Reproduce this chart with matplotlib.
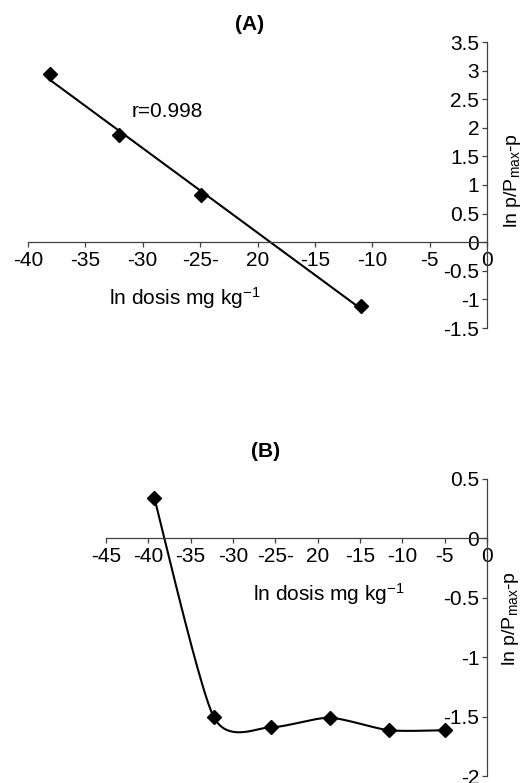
import numpy as np
import matplotlib
matplotlib.use('Agg')
import matplotlib.pyplot as plt

plt.rcParams['font.family'] = ['Liberation Sans', 'DejaVu Sans']
plt.rcParams['mathtext.fontset'] = 'custom'
plt.rcParams['mathtext.rm'] = 'Liberation Sans'
plt.rcParams['mathtext.it'] = 'Liberation Sans:italic'
plt.rcParams['axes.unicode_minus'] = False

# panel A data
a_dose = [-38.1, -32.1, -24.9, -11.0]
a_resp = [2.94, 1.87, 0.82, -1.11]
a_xticks = [-40, -35, -30, -25, -20, -15, -10, -5, 0]
a_xlabels = ['-40', '-35', '-30', '-25-', '20', '-15', '-10', '-5', '0']
a_yticks = [-1.5, -1, -0.5, 0, 0.5, 1, 1.5, 2, 2.5, 3, 3.5]
a_ylabels = ['-1.5', '-1', '-0.5', '0', '0.5', '1', '1.5', '2', '2.5', '3', '3.5']

# panel B data
b_dose = [-39.3, -32.3, -25.5, -18.6, -11.6, -5.0]
b_resp = [0.34, -1.50, -1.59, -1.51, -1.615, -1.615]
b_xticks = [-45, -40, -35, -30, -25, -20, -15, -10, -5, 0]
b_xlabels = ['-45', '-40', '-35', '-30', '-25-', '20', '-15', '-10', '-5', '0']
b_yticks = [-2, -1.5, -1, -0.5, 0, 0.5]
b_ylabels = ['-2', '-1.5', '-1', '-0.5', '0', '0.5']

FS = 15
SPINE = '#404040'


def smooth(x, y, n=40, f=0.12):
    # smoothed line like the spreadsheet one (bezier through the points)
    p = np.column_stack([x, y]).astype(float)
    ext = np.vstack([p[0], p, p[-1]])
    out = []
    t = np.linspace(0, 1, n)[:, None]
    for i in range(len(p) - 1):
        p0, p3 = ext[i + 1], ext[i + 2]
        c1 = p0 + (ext[i + 2] - ext[i]) * f
        c2 = p3 - (ext[i + 3] - ext[i + 1]) * f
        seg = ((1 - t) ** 3) * p0 + 3 * ((1 - t) ** 2) * t * c1 + 3 * (1 - t) * t ** 2 * c2 + t ** 3 * p3
        out.append(seg)
    out = np.vstack(out)
    return out[:, 0], out[:, 1]


def style(ax, xt, xl, yt, yl):
    for s in ['top', 'right']:
        ax.spines[s].set_visible(False)
    ax.spines['left'].set_position(('data', 0))
    ax.spines['bottom'].set_position(('data', 0))
    for s in ['left', 'bottom']:
        ax.spines[s].set_color(SPINE)
        ax.spines[s].set_linewidth(0.9)
    ax.set_xticks(xt)
    ax.set_xticklabels(xl)
    ax.set_yticks(yt)
    ax.set_yticklabels(yl)
    ax.tick_params(axis='both', colors=SPINE, labelcolor='black', labelsize=FS,
                   length=3.5, width=0.9, direction='out')
    ax.tick_params(axis='x', pad=3)
    ax.tick_params(axis='y', pad=2)
    ax.patch.set_visible(False)


fig = plt.figure(figsize=(5.27, 7.83), dpi=100)

ylab = r'ln p/P$_{\mathrm{max}}$-p'
xlab = r'ln dosis mg kg$^{\mathrm{-1}}$'

# (A)
ax1 = fig.add_axes([28 / 527, 1 - 328 / 783, 459 / 527, 286 / 783])
ax1.set_xlim(-40, 0)
ax1.set_ylim(-1.5, 3.5)
style(ax1, a_xticks, a_xlabels, a_yticks, a_ylabels)
k, b = np.polyfit(a_dose, a_resp, 1)
xs = np.array([min(a_dose), max(a_dose)])
ax1.plot(xs, k * xs + b, color='black', lw=1.5, clip_on=False)
ax1.plot(a_dose, a_resp, 'D', color='black', ms=7.5, clip_on=False)
ax1.text(-31, 2.28, 'r=0.998', fontsize=FS, ha='left', va='center')
ax1.set_xlabel(xlab, fontsize=FS)
ax1.xaxis.set_label_coords(0.342, 0.15)
ax1.yaxis.set_label_position('right')
ax1.set_ylabel(ylab, fontsize=14)
ax1.yaxis.set_label_coords(1.032, 0.517)
fig.text(250 / 527, 1 - 25 / 783, '(A)', fontsize=FS, fontweight='bold',
         ha='center', va='center')

# (B)
ax2 = fig.add_axes([106 / 527, 1 - 776 / 783, 381 / 527, 297.3 / 783])
ax2.set_xlim(-45, 0)
ax2.set_ylim(-2, 0.5)
style(ax2, b_xticks, b_xlabels, b_yticks, b_ylabels)
sx, sy = smooth(b_dose, b_resp)
ax2.plot(sx, sy, color='black', lw=1.5, clip_on=False)
ax2.plot(b_dose, b_resp, 'D', color='black', ms=7.5, clip_on=False)
ax2.set_xlabel(xlab, fontsize=FS)
ax2.xaxis.set_label_coords(0.585, 0.655)
ax2.yaxis.set_label_position('right')
ax2.set_ylabel(ylab, fontsize=14)
ax2.yaxis.set_label_coords(1.035, 0.53)
fig.text(266 / 527, 1 - 452 / 783, '(B)', fontsize=FS, fontweight='bold',
         ha='center', va='center')

fig.savefig('out.png', dpi=100)
